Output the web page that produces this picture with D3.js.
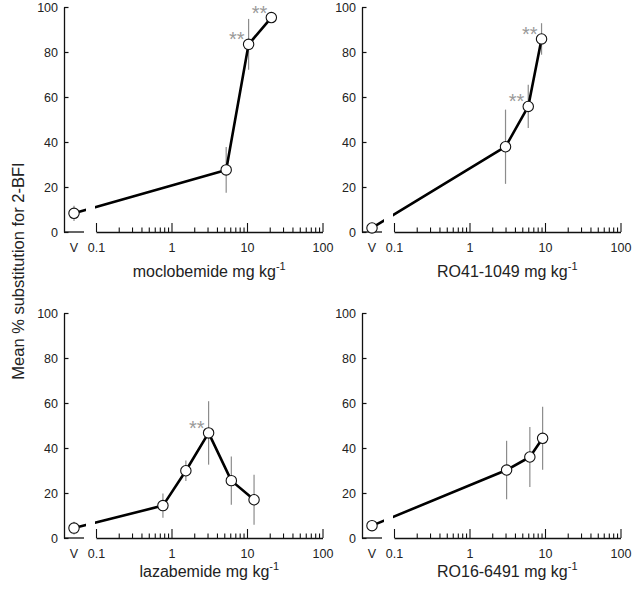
<!DOCTYPE html>
<html>
<head>
<meta charset="utf-8">
<script src="https://cdn.jsdelivr.net/npm/d3@7"></script>
<style>
  html, body { margin: 0; padding: 0; background: #fff; }
  svg { display: block; font-family: "Liberation Sans", Arial, Helvetica, sans-serif; }
</style>
</head>
<body>
<svg id="chart" width="640" height="591"></svg>
<script>
// ---------- data ----------
const drugNames = ["moclobemide", "RO41-1049", "lazabemide", "RO16-6491"];
const yTickValues = [0, 20, 40, 60, 80, 100];
const xTickLabels = ["0.1", "1", "10", "100"];
const vehicleLabel = "V";
const yTitle = "Mean % substitution for 2-BFI";

// vehicle (V) mean and SEM per drug
const vehicleMeans = [8.3, 1.8, 4.4, 5.5];
const vehicleErrs  = [3.4, 1.0, 2.8, 1.5];

// moclobemide
const mocloDoses = [5.3, 10.5, 21];
const mocloMeans = [27.6, 83.4, 95.3];
const mocloErrs  = [10.2, 11.3, 1.5];
const mocloSig   = [false, true, true];

// RO41-1049
const ro41Doses = [3, 6, 9];
const ro41Means = [37.9, 55.8, 85.8];
const ro41Errs  = [16.5, 9.6, 7.0];
const ro41Sig   = [false, true, true];

// lazabemide
const lazaDoses = [0.77, 1.55, 3.1, 6.2, 12.4];
const lazaMeans = [14.4, 29.9, 46.7, 25.5, 17.0];
const lazaErrs  = [5.4, 4.6, 14.1, 10.7, 11.1];
const lazaSig   = [false, false, true, false, false];

// RO16-6491
const ro16Doses = [3.1, 6.3, 9.3];
const ro16Means = [30.2, 36.0, 44.3];
const ro16Errs  = [13.0, 13.3, 14.0];
const ro16Sig   = [false, false, false];

const doseSets = [mocloDoses, ro41Doses, lazaDoses, ro16Doses];
const meanSets = [mocloMeans, ro41Means, lazaMeans, ro16Means];
const errSets  = [mocloErrs, ro41Errs, lazaErrs, ro16Errs];
const sigSets  = [mocloSig, ro41Sig, lazaSig, ro16Sig];

// ---------- layout ----------
const svg = d3.select("#chart");
const panelAxisX = [64, 362, 64, 362];
const panelY0    = [232, 232, 538, 538];
const panelY100  = [7, 7, 313, 313];
const titleBase  = [277, 277, 577, 577];

const defs = svg.append("defs");

drugNames.forEach((name, i) => {
  const ax = panelAxisX[i];
  const y0 = panelY0[i];
  const g = svg.append("g");

  const y = d3.scaleLinear().domain([0, 100]).range([y0, panelY100[i]]);
  const x = d3.scaleLog().domain([0.1, 100]).range([ax + 32, ax + 258.5]);
  const vX = ax + 10;

  // y axis
  const yAxis = d3.axisLeft(y).tickValues(yTickValues).tickSizeInner(-4.5).tickSizeOuter(0).tickPadding(6);
  const yg = g.append("g").attr("transform", `translate(${ax},0)`).call(yAxis);
  yg.select(".domain").attr("stroke", "#111").attr("stroke-width", 1.3);
  yg.selectAll(".tick line").attr("stroke", "#111").attr("stroke-width", 1.2);
  yg.selectAll(".tick text").attr("font-size", 12.5).attr("fill", "#222")
    .attr("font-family", "Liberation Sans, Arial, sans-serif");

  // vehicle segment of x axis
  g.append("line").attr("x1", ax).attr("x2", ax + 20).attr("y1", y0).attr("y2", y0)
    .attr("stroke", "#111").attr("stroke-width", 1.3);
  g.append("text").attr("x", vX).attr("y", y0 + 20).attr("text-anchor", "middle")
    .attr("font-size", 12.5).attr("fill", "#222").text(vehicleLabel);

  // log x axis
  const logTicks = [];
  [0.1, 1, 10].forEach(dec => { for (let k = 1; k <= 9; k++) logTicks.push(+(k * dec).toPrecision(3)); });
  logTicks.push(100);
  const majors = [0.1, 1, 10, 100];
  const xAxis = d3.axisBottom(x).tickValues(logTicks).tickSizeInner(-9).tickSizeOuter(0).tickPadding(11)
    .tickFormat(d => { const j = majors.indexOf(d); return j >= 0 ? xTickLabels[j] : ""; });
  const xg = g.append("g").attr("transform", `translate(0,${y0})`).call(xAxis);
  xg.select(".domain").attr("stroke", "#111").attr("stroke-width", 1.3);
  xg.selectAll(".tick line").attr("stroke", "#111").attr("stroke-width", 1.1)
    .attr("y2", d => majors.includes(d) ? -9 : -4.5);
  xg.selectAll(".tick text").attr("font-size", 12.5).attr("fill", "#222")
    .attr("font-family", "Liberation Sans, Arial, sans-serif");

  // x title
  const t = g.append("text").attr("x", x(Math.sqrt(0.1 * 100))).attr("y", titleBase[i])
    .attr("text-anchor", "middle").attr("font-size", 16).attr("fill", "#222");
  t.append("tspan").text(name + " mg kg");
  t.append("tspan").attr("font-size", 11).attr("dy", -7).text("-1");

  // data
  const pts = [{ px: vX, py: y(vehicleMeans[i]), e: vehicleErrs[i], m: vehicleMeans[i], sig: false }];
  doseSets[i].forEach((d, j) => pts.push({ px: x(d), py: y(meanSets[i][j]), e: errSets[i][j], m: meanSets[i][j], sig: sigSets[i][j] }));

  // error bars
  g.selectAll(".err").data(pts).enter().append("line")
    .attr("x1", d => d.px).attr("x2", d => d.px)
    .attr("y1", d => y(d.m + d.e)).attr("y2", d => y(Math.max(0, d.m - d.e)))
    .attr("stroke", "#8c8c8c").attr("stroke-width", 1.2);

  // connecting line with axis-break gap
  const clipId = "clip" + i;
  const cp = defs.append("clipPath").attr("id", clipId);
  cp.append("rect").attr("x", 0).attr("y", 0).attr("width", ax + 22).attr("height", 591);
  cp.append("rect").attr("x", ax + 31).attr("y", 0).attr("width", 640).attr("height", 591);
  const line = d3.line().x(d => d.px).y(d => d.py);
  g.append("path").datum(pts).attr("d", line).attr("fill", "none")
    .attr("stroke", "#000").attr("stroke-width", 2.6).attr("stroke-linejoin", "round")
    .attr("clip-path", `url(#${clipId})`);

  // markers
  g.selectAll(".pt").data(pts).enter().append("circle")
    .attr("cx", d => d.px).attr("cy", d => d.py).attr("r", 5.2)
    .attr("fill", "#fff").attr("stroke", "#111").attr("stroke-width", 1.1);

  // significance
  g.selectAll(".sig").data(pts.filter(d => d.sig)).enter().append("text")
    .attr("x", d => d.px - 4).attr("y", d => d.py + 2)
    .attr("text-anchor", "end").attr("font-size", 20).attr("fill", "#999")
    .text("**");
});

// y title
svg.append("text").attr("transform", "translate(24,271) rotate(-90)")
  .attr("text-anchor", "middle").attr("font-size", 16.5).attr("fill", "#222").text(yTitle);
</script>
</body>
</html>
